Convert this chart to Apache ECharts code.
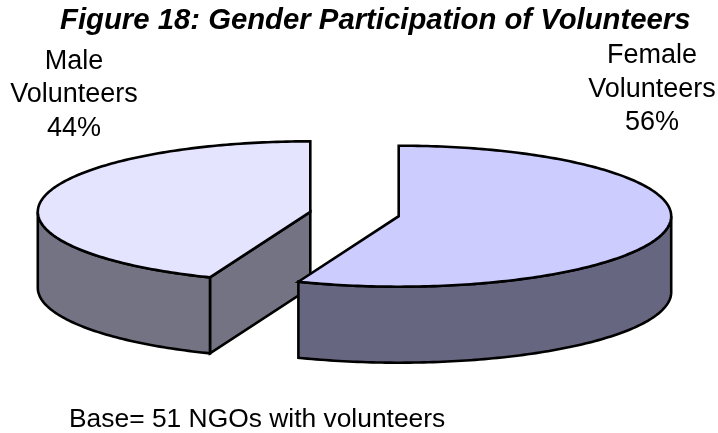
<!DOCTYPE html>
<html><head><meta charset="utf-8">
<style>html,body{margin:0;padding:0;background:#fff}#c{width:718px;height:433px}</style>
<script src="https://cdn.jsdelivr.net/npm/echarts@6/dist/echarts.min.js"></script>
</head><body><div id="c"></div>
<script>
const titleText = 'Figure 18: Gender Participation of Volunteers';
const noteText = 'Base= 51 NGOs with volunteers';
const categories = ['Female\nVolunteers', 'Male\nVolunteers'];
const shares = [56, 44];
const topColors = ['#CCCCFF', '#E4E4FE'];
const sideColors = ['#666680', '#737383'];
const labelPos = [[652, 56], [74, 61.5]];

const CX = 354.5, CY = 214, RX = 272.5, RY = 70.5, DEPTH = 76, EXPLODE = 45;
const total = shares.reduce((a, b) => a + b, 0);

function arcPts(cx, cy, a0, a1) {
  const n = Math.max(2, Math.ceil(Math.abs(a1 - a0) / (Math.PI / 180)));
  const pts = [];
  for (let i = 0; i <= n; i++) {
    const a = a0 + (a1 - a0) * i / n;
    pts.push([cx + RX * Math.sin(a), cy - RY * Math.cos(a)]);
  }
  return pts;
}
function renderSlice(params, api) {
  const i = params.dataIndex;
  let before = 0;
  for (let k = 0; k < i; k++) before += shares[k];
  const a0 = before / total * 2 * Math.PI;
  const a1 = (before + api.value(0)) / total * 2 * Math.PI;
  const mid = (a0 + a1) / 2;
  const cx = CX + EXPLODE * Math.sin(mid);
  const cy = CY - EXPLODE * Math.cos(mid) * RY / RX;
  const children = [];
  const z2 = (shares.length - i) * 10;
  const poly = (points, fill) => children.push({
    type: 'polygon', z2: z2 + children.length, shape: { points },
    style: { fill, stroke: '#000', lineWidth: 2.6, lineJoin: 'miter' }
  });
  const down = p => [p[0], p[1] + DEPTH];
  const side = sideColors[i];
  const wall = a => {
    const e = [cx + RX * Math.sin(a), cy - RY * Math.cos(a)];
    poly([[cx, cy], e, down(e), [cx, cy + DEPTH]], side);
  };
  if (Math.sin(a0) < -1e-6) wall(a0);
  if (Math.sin(a1) > 1e-6) wall(a1);
  const f0 = Math.max(a0, Math.PI / 2), f1 = Math.min(a1, 1.5 * Math.PI);
  if (f1 > f0) {
    const rim = arcPts(cx, cy, f0, f1);
    poly(rim.concat(rim.map(down).reverse()), side);
  }
  poly([[cx, cy]].concat(arcPts(cx, cy, a0, a1)), topColors[i]);
  return { type: 'group', children };
}

const chart = echarts.init(document.getElementById('c'), null, { renderer: 'canvas' });
const font = 'Liberation Sans, Arial, sans-serif';
chart.setOption({
  animation: false,
  backgroundColor: '#fff',
  title: {
    text: titleText, left: 60, top: 5, padding: 0,
    textStyle: { fontFamily: font, fontSize: 29.3, fontWeight: 'bold', fontStyle: 'italic', color: '#000', lineHeight: 32 }
  },
  graphic: [
    { type: 'text', left: 69, top: 407, style: { text: noteText, font: '26.4px ' + font, fill: '#000' } }
  ].concat(categories.map((c, i) => ({
    type: 'text', x: labelPos[i][0], y: labelPos[i][1] + 33.3,
    style: {
      text: c + '\n' + shares[i] + '%', align: 'center', verticalAlign: 'middle',
      font: '27px ' + font, lineHeight: 33.3, fill: '#000'
    }
  }))),
  series: [{
    type: 'custom', coordinateSystem: 'none', silent: true, clip: false,
    renderItem: renderSlice,
    data: shares.map((v, i) => ({ name: categories[i], value: [v] }))
  }]
});
</script></body></html>
